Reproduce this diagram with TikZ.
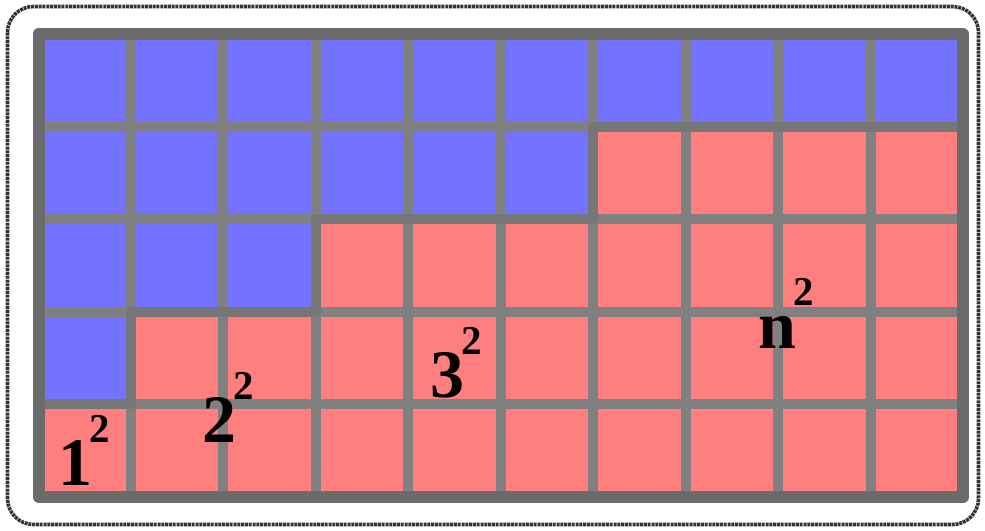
\documentclass[tikz,border=0pt]{standalone}
\usepackage{fontspec}
\setmainfont{Liberation Serif}
\definecolor{cellblue}{HTML}{7373FF}
\definecolor{cellred}{HTML}{FF7F7F}
\definecolor{gridgray}{HTML}{808080}
\definecolor{framegray}{HTML}{6B6B6B}
\newcommand{\sqlabel}[1]{{\fontsize{68}{68}\selectfont\bfseries #1}\kern-3pt\raisebox{43pt}{\fontsize{41}{41}\selectfont\bfseries 2}}
\tikzset{
  sqtext/.style={anchor=base west, inner sep=0pt, text=black},
  gridline/.style={draw=gridgray, line width=10pt},
}
\begin{document}
\begin{tikzpicture}[x=1pt,y=-1pt]
\useasboundingbox (0,0) rectangle (985,530);
% outer rough frame
\draw[black!80, line width=3.6pt, rounded corners=26pt, dash pattern=on 3pt off 0.8pt]
  (7.5,6.5) rectangle (978.5,524.5);
% cells
\foreach \j/\nb in {0/10,1/6,2/3,3/1,4/0}{
  \foreach \i in {0,...,9}{
    \pgfmathsetmacro{\xa}{38.5+92.45*\i}
    \pgfmathsetmacro{\xb}{38.5+92.45*(\i+1)}
    \pgfmathsetmacro{\ya}{34+92.6*\j}
    \pgfmathsetmacro{\yb}{34+92.6*(\j+1)}
    \ifnum\i<\nb
      \fill[cellblue] (\xa,\ya) rectangle (\xb,\yb);
    \else
      \fill[cellred] (\xa,\ya) rectangle (\xb,\yb);
    \fi
  }
}
% interior grid lines
\foreach \i in {1,...,9}{
  \draw[gridline] ({38.5+92.45*\i},34) -- ({38.5+92.45*\i},497);
}
\foreach \j in {1,...,4}{
  \draw[gridline] (38.5,{34+92.6*\j}) -- (963,{34+92.6*\j});
}
% staircase boundary
\draw[draw=gridgray!92!black, line width=10pt, line join=round]
  (38.5,404.4) -- (130.95,404.4) -- (130.95,311.8) -- (315.85,311.8)
  -- (315.85,219.2) -- (593.2,219.2) -- (593.2,126.6) -- (963,126.6);
% outer grid border
\draw[draw=framegray, line width=12pt, line join=round] (38.5,34) rectangle (963,497);
% labels
\node[sqtext] (one) at (58,485) {\sqlabel{1}};
\node[sqtext] (two) at (202,442) {\sqlabel{2}};
\node[sqtext] (three) at (430,397) {\sqlabel{3}};
\node[sqtext] (enn) at (758,348) {\sqlabel{n}};
\end{tikzpicture}
\end{document}
